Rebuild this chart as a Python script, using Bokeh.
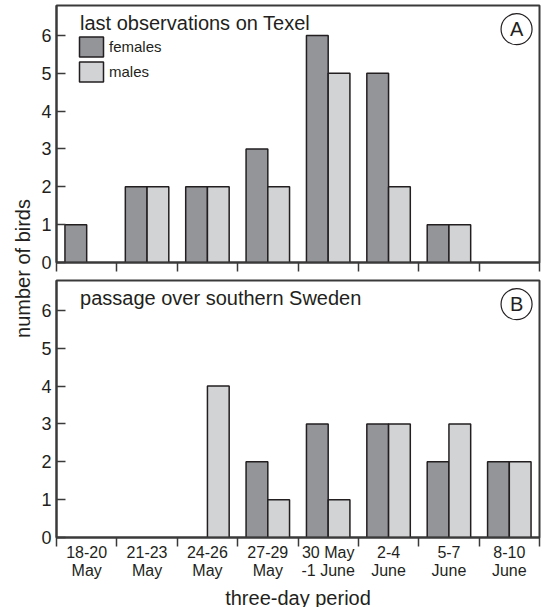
import math
from bokeh.plotting import figure
from bokeh.models import (ColumnDataSource, Range1d, FactorRange, LinearAxis, FixedTicker,
                          Label, Legend, LegendItem, CDSView, BooleanFilter,
                          CustomLabelingPolicy)
from bokeh.transform import dodge
from bokeh.layouts import row, column
from bokeh.embed import file_html
from bokeh.resources import INLINE

# ---- data ----
periods = ["18-20 May", "21-23 May", "24-26 May", "27-29 May",
           "30 May-1 June", "2-4 June", "5-7 June", "8-10 June"]
period_labels = ["18-20\nMay", "21-23\nMay", "24-26\nMay", "27-29\nMay",
                 "30 May\n-1 June", "2-4\nJune", "5-7\nJune", "8-10\nJune"]
texel_females = [1, 2, 2, 3, 6, 5, 1, 0]
texel_males = [0, 2, 2, 2, 5, 2, 1, 0]
sweden_females = [0, 0, 0, 2, 3, 3, 2, 2]
sweden_males = [0, 0, 4, 1, 1, 3, 3, 2]
y_ticks = [0, 1, 2, 3, 4, 5, 6]

# ---- style ----
FONT = "Liberation Sans"
INK = "#231f20"
FEMALE = "#939598"
MALE = "#d1d3d4"
FRAME = "#3a3a3a"
FRAME_W = 483
FRAME_H = 257
Y_MAX = 6.79


def panel(title, letter, females, males, bottom, with_legend):
    n = len(periods)
    p = figure(x_range=FactorRange(*periods), y_range=Range1d(0, Y_MAX),
               frame_width=FRAME_W, frame_height=FRAME_H,
               x_axis_type=None, output_backend="svg", toolbar_location=None,
               min_border_left=18, min_border_right=4,
               min_border_top=1 if bottom else 5,
               min_border_bottom=70 if bottom else 17,
               background_fill_color="white", border_fill_color="white")
    p.grid.grid_line_color = None
    p.outline_line_color = FRAME
    p.outline_line_width = 2

    # y axis
    ya = p.yaxis[0]
    ya.ticker = FixedTicker(ticks=y_ticks)
    ya.major_tick_in = 9
    ya.major_tick_out = 0
    ya.minor_tick_line_color = None
    ya.axis_line_color = FRAME
    ya.axis_line_width = 2
    ya.major_tick_line_color = FRAME
    ya.major_tick_line_width = 1.5
    ya.major_label_text_font = FONT
    ya.major_label_text_font_size = "18px"
    ya.major_label_text_color = INK
    ya.major_label_standoff = 5

    centers = [i + 0.5 for i in range(n)]
    bounds = list(range(n + 1))
    if bottom:
        # labels at category centres, ticks at category boundaries
        xa = LinearAxis(ticker=FixedTicker(ticks=centers, minor_ticks=bounds))
        xa.major_label_overrides = {c: lab for c, lab in zip(centers, period_labels)}
        xa.major_tick_line_color = None
        xa.major_tick_in = 0
        xa.major_tick_out = 0
        xa.minor_tick_line_color = FRAME
        xa.minor_tick_line_width = 1.5
        xa.minor_tick_in = 0
        xa.minor_tick_out = 9
        xa.major_label_text_font = FONT
        xa.major_label_text_color = INK
        xa.major_label_text_line_height = 1.06
        xa.major_label_text_font_size = "16px"
        xa.major_label_standoff = -3
        xa.axis_label = "three-day period"
        xa.axis_label_text_font = FONT
        xa.axis_label_text_font_size = "20px"
        xa.axis_label_text_font_style = "normal"
        xa.axis_label_text_color = INK
        xa.axis_label_standoff = 5
    else:
        # only boundary ticks, no labels
        xa = LinearAxis(ticker=FixedTicker(ticks=bounds),
                        major_label_policy=CustomLabelingPolicy(code="return []"))
        xa.major_tick_line_color = FRAME
        xa.major_tick_line_width = 1.5
        xa.major_tick_in = 0
        xa.major_tick_out = 9
        xa.minor_tick_line_color = None
        xa.major_label_text_font_size = "1px"
        xa.major_label_standoff = 0
    xa.axis_line_color = FRAME
    xa.axis_line_width = 2
    p.add_layout(xa, "below")

    src = ColumnDataSource(dict(period=periods, females=females, males=males))
    fv = p.vbar(x=dodge("period", -0.18, range=p.x_range), top="females", width=0.36,
                source=src, fill_color=FEMALE, line_color=INK, line_width=1.5,
                view=CDSView(filter=BooleanFilter([v > 0 for v in females])))
    mv = p.vbar(x=dodge("period", 0.18, range=p.x_range), top="males", width=0.36,
                source=src, fill_color=MALE, line_color=INK, line_width=1.5,
                view=CDSView(filter=BooleanFilter([v > 0 for v in males])))

    p.add_layout(Label(x=0.39, y=6.34, text=title, text_font=FONT,
                       text_font_size="20px", text_color=INK,
                       text_align="left", text_baseline="alphabetic"))

    p.scatter(x=[7.62], y=[6.165], marker="circle", size=31,
              fill_color="white", line_color=INK, line_width=1.2)
    p.add_layout(Label(x=7.62, y=6.165, text=letter, text_font=FONT,
                       text_font_size="20px", text_color=INK,
                       text_align="center", text_baseline="middle"))

    if with_legend:
        leg = Legend(items=[LegendItem(label="females", renderers=[fv]),
                            LegendItem(label="males", renderers=[mv])],
                     location=(20, FRAME_H - 29 - 50), glyph_width=30, glyph_height=25,
                     spacing=0, padding=0, margin=0, label_standoff=3,
                     label_text_font=FONT, label_text_font_size="15px",
                     label_text_color=INK, border_line_color=None,
                     background_fill_alpha=0)
        p.add_layout(leg)
    return p


pa = panel("last observations on Texel", "A", texel_females, texel_males, False, True)
pb = panel("passage over southern Sweden", "B", sweden_females, sweden_males, True, False)

H = 607
lab = figure(width=38, height=H, x_range=Range1d(0, 38), y_range=Range1d(0, H),
             x_axis_type=None, y_axis_type=None, output_backend="svg",
             toolbar_location=None, min_border=0, outline_line_color=None)
lab.grid.grid_line_color = None
lab.add_layout(Label(x=22, y=H - 268, text="number of birds", angle=math.pi / 2,
                     text_font=FONT, text_font_size="20px", text_color=INK,
                     text_align="center", text_baseline="middle"))

layout = row(lab, column(pa, pb))
open("out.html", "w").write(file_html(layout, INLINE))
